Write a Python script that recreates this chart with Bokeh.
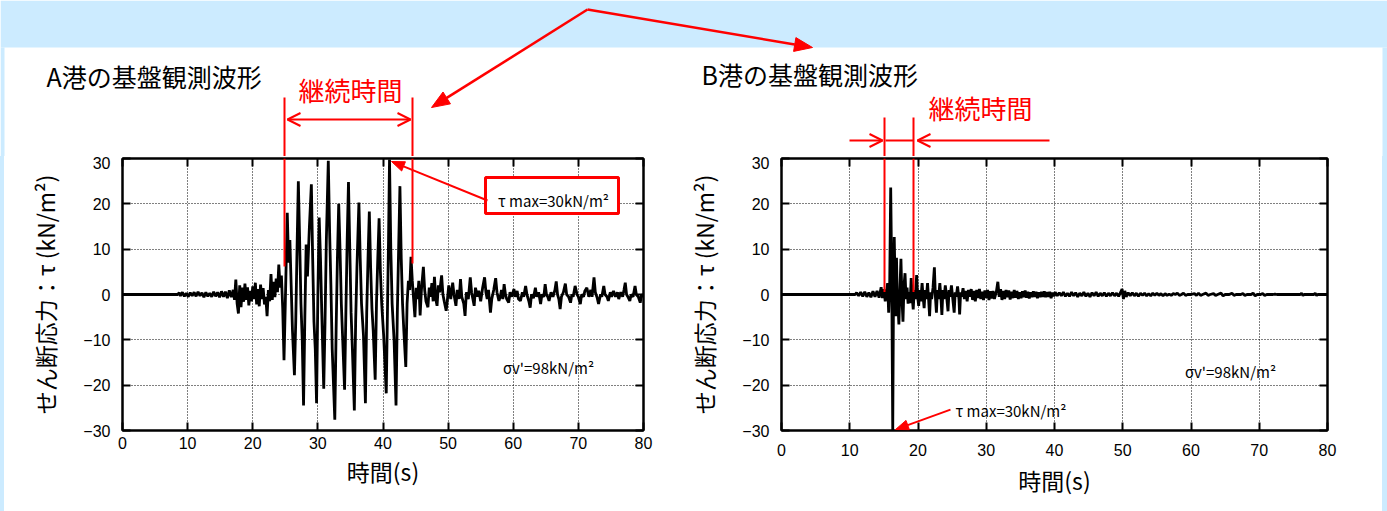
import math
from bokeh.plotting import figure
from bokeh.layouts import row, column
from bokeh.models import Range1d, FixedTicker, LinearAxis, PolyAnnotation, Label, Div
from bokeh.embed import file_html
from bokeh.resources import INLINE

# ---------------- data ----------------
x_ticks = [0, 10, 20, 30, 40, 50, 60, 70, 80]
y_ticks = [-30, -20, -10, 0, 10, 20, 30]

title_a = "A港の基盤観測波形"
title_b = "B港の基盤観測波形"
duration_text = "継続時間"
x_label = "時間(s)"
y_label = "せん断応力：τ (kN/m²)"
tau_max_text = "τ max=30kN/m²"
sigma_text = "σv'=98kN/m²"

time_a = [0, 8.5, 8.7, 8.9, 9.2, 9.5, 9.8, 10.1, 10.4, 10.7, 11.0, 11.3, 11.6, 11.9, 12.2, 12.5, 12.8, 13.1,
          13.4, 13.7, 14.0, 14.3, 14.6, 14.9, 15.2, 15.5, 15.8, 16.1, 16.4, 16.7, 17.0, 17.2, 17.4, 17.6,
          17.8, 18.0, 18.2, 18.4, 18.6, 18.8, 19.0, 19.2, 19.4, 19.6, 19.8, 20.0, 20.2, 20.4, 20.6, 20.8,
          21.0, 21.2, 21.4, 21.6, 21.8, 22.0, 22.2, 22.4, 22.6, 22.8, 23.0, 23.2, 23.4, 23.6, 23.8, 24.0,
          24.2, 24.4, 24.6, 24.8, 25.0, 25.3, 25.5, 25.7, 25.9, 26.1, 26.4, 26.6, 26.8, 27.0, 27.2, 27.4,
          27.6, 27.8, 28.0, 28.2, 28.4, 28.7, 29.0, 29.2, 29.4, 29.6, 29.8, 30.0, 30.2, 30.4, 30.6, 30.9,
          31.1, 31.3, 31.6, 31.8, 32.0, 32.2, 32.6, 32.8, 33.0, 33.2, 33.4, 33.6, 33.8, 34.1, 34.3, 34.5,
          34.7, 34.9, 35.1, 35.3, 35.6, 35.8, 36.0, 36.3, 36.5, 36.7, 37.0, 37.3, 37.5, 37.7, 37.9, 38.1,
          38.3, 38.5, 38.8, 39.0, 39.2, 39.4, 39.6, 39.8, 40.1, 40.5, 40.7, 40.85, 41.0, 41.2, 41.4, 41.7,
          42.0, 42.2, 42.4, 42.6, 42.8, 43.0, 43.2, 43.5, 43.7, 43.9, 44.1, 44.3, 44.5, 44.7, 44.9, 45.1,
          45.3, 45.5, 45.7, 45.9, 46.2, 46.4, 46.6, 46.9, 47.1, 47.3, 47.5, 47.7, 47.9, 48.1, 48.3, 48.5,
          48.7, 49.0, 49.2, 49.4, 49.7, 49.9, 50.1, 50.4, 50.7, 50.9, 51.2, 51.4, 51.7, 51.9, 52.1, 52.4,
          52.6, 52.8, 53.1, 53.4, 53.6, 53.8, 54.0, 54.2, 54.5, 54.7, 55.0, 55.3, 55.6, 55.8, 56.0, 56.2,
          56.5, 56.7, 57.0, 57.3, 57.5, 57.8, 58.0, 58.2, 58.4, 58.6, 58.8, 59.0, 59.3, 59.5, 59.8, 60.1,
          60.3, 60.6, 60.8, 61.1, 61.4, 61.6, 61.9, 62.1, 62.4, 62.6, 62.8, 63.1, 63.4, 63.6, 63.9, 64.2,
          64.4, 64.7, 64.9, 65.1, 65.3, 65.5, 65.8, 66.1, 66.4, 66.6, 66.8, 67.0, 67.2, 67.4, 67.7, 68.0,
          68.2, 68.5, 68.8, 69.0, 69.2, 69.5, 69.8, 70.0, 70.3, 70.5, 70.8, 71.0, 71.3, 71.6, 71.9, 72.1,
          72.4, 72.6, 72.9, 73.1, 73.4, 73.6, 73.9, 74.1, 74.4, 74.6, 74.9, 75.1, 75.4, 75.7, 76.0, 76.2,
          76.5, 76.8, 77.0, 77.2, 77.4, 77.6, 77.9, 78.1, 78.4, 78.7, 78.9, 79.2, 79.5, 79.7, 80.0]
tau_a = [0, 0, 0.4, -0.3, 0.5, -0.4, 0.3, -0.5, 0.4, -0.3, 0.5, -0.4, 0.6, -0.3, 0.4, -0.6, 0.5, -0.4,
         0.3, -0.5, 0.6, -0.4, 0.5, -0.6, 0.7, -0.5, 0.6, -0.8, 0.9, -0.6, 1.0, -1.2, 3.3, -2.0,
         -4.2, 2.0, -2.8, 1.5, -1.6, 2.4, -1.2, 1.6, -2.4, 0.8, -1.5, 1.8, -1.0, 2.6, -2.2, 1.2,
         -2.6, 2.2, -1.0, 1.4, -2.2, -0.5, -4.8, 1.0, -1.5, 4.5, -1.2, 2.8, -0.6, 3.5, 0.5, 6.6,
         1.5, 4.2, -3.0, -14.5, -2.0, 18.0, 7.0, 12.0, 2.0, -8.0, -17.8, -6.0, 10.0, 25.0, 12.0, -2.0,
         -10.0, -24.5, -5.0, 11.0, 4.0, 15.0, 24.3, 8.0, -6.0, -12.0, -24.0, 0.0, 17.0, 8.0, -4.0, -20.8,
         -6.0, 12.0, 29.5, 14.0, 2.0, -12.0, -27.6, -8.0, 8.0, 20.0, 10.0, -2.0, -9.5, -21.0, -4.0, 12.0,
         24.8, 10.0, -4.0, -12.0, -25.6, -6.0, 6.0, 20.3, 8.0, -2.0, -9.0, -24.0, -4.0, 8.0, 18.3, 6.0,
         -3.0, -8.0, -18.8, -2.0, 8.0, 16.8, 5.0, -2.0, -9.0, -21.8, -2.0, 12.0, 29.8, 10.0, -2.0, -10.0,
         -24.5, -4.0, 10.0, 23.9, 8.0, -2.0, -8.0, -16.0, -2.0, 3.0, 1.0, 8.3, 3.0, -1.0, -5.0, 1.5,
         -1.0, 3.0, -4.6, 1.0, 6.1, 1.0, -1.5, -2.8, 1.5, -0.5, 2.5, -1.5, 3.9, -1.0, -2.5, 2.0,
         0.5, 4.2, 0.0, -1.5, -3.6, -1.0, 2.0, -1.0, 2.6, 0.0, -2.5, 1.0, -1.0, 3.4, -0.5, -2.0,
         -4.7, 0.5, -1.0, 3.8, 0.5, -1.0, -2.5, 1.5, -0.5, 0.8, -1.5, 1.5, 3.8, 0.5, -1.0, 1.0,
         -4.0, -1.0, 1.0, 3.6, 0.5, -1.4, -0.5, 1.0, -1.0, 2.3, 0.0, -1.0, -1.8, 0.5, -0.5, 1.2,
         -0.5, 0.8, -1.0, -1.4, 0.5, -0.5, 1.9, 0.0, -1.5, -2.9, 0.0, -0.8, 1.5, -0.5, 0.5, -2.1,
         0.0, -0.5, 2.3, 0.0, -0.5, -1.4, 0.5, -0.5, 1.0, 2.9, 0.0, -1.0, -3.2, -0.5, 0.5, 2.4,
         0.0, -0.5, -1.8, 0.0, -0.5, 1.9, 0.0, -0.5, -2.1, 0.0, -0.5, 0.8, 1.5, -0.5, 1.0, -0.5,
         3.8, 0.5, -0.8, -2.1, 0.0, -0.5, 1.9, 0.0, -0.5, -1.4, 0.5, -0.5, 0.8, -0.5, 0.5, -1.0,
         0.5, -0.5, 1.0, 2.6, 0.0, -0.5, -1.4, 0.0, -0.5, 1.9, 0.0, -0.5, -1.8, 0.0, -0.5]

time_b = [0, 10.8, 11.0, 11.3, 11.6, 11.9, 12.2, 12.5, 12.8, 13.1, 13.4, 13.7, 14.0, 14.3, 14.6, 14.8,
          15.0, 15.2, 15.4, 15.55, 15.7, 15.85, 16.0, 16.15, 16.3, 16.42, 16.52, 16.62, 16.72, 16.85,
          16.95, 17.05, 17.2, 17.35, 17.5, 17.65, 17.8, 17.95, 18.1, 18.25, 18.4, 18.55, 18.7, 18.85,
          19.0, 19.15, 19.3, 19.45, 19.6, 19.8, 19.95, 20.1, 20.25, 20.4, 20.6, 20.75, 20.9, 21.05,
          21.2, 21.4, 21.55, 21.7, 21.85, 22.0, 22.2, 22.4, 22.55, 22.7, 22.85, 23.0, 23.2, 23.35,
          23.5, 23.65, 23.8, 24.0, 24.2, 24.4, 24.55, 24.7, 24.9, 25.1, 25.3, 25.45, 25.6, 25.8,
          26.0, 26.1, 26.25, 26.4, 26.6, 26.8, 27.0, 27.2, 27.4, 27.6, 27.8, 28.0, 28.2, 28.4,
          28.6, 28.8, 29.0, 29.2, 29.4, 29.6, 29.8, 30.0, 30.2, 30.4, 30.6, 30.8, 31.0, 31.2,
          31.5, 31.7, 31.9, 32.1, 32.3, 32.5, 32.7, 32.9, 33.1, 33.3, 33.5, 33.7, 33.9, 34.1,
          34.3, 34.5, 34.7, 34.9, 35.1, 35.3, 35.5, 35.7, 35.9, 36.1, 36.3, 36.5, 36.7, 36.9,
          37.1, 37.3, 37.5, 37.7, 37.9, 38.1, 38.3, 38.5, 38.7, 38.9, 39.1, 39.3, 39.5, 39.7,
          39.9, 40.1, 40.4, 40.7, 41.0, 41.3, 41.6, 41.9, 42.2, 42.5, 42.8, 43.1, 43.4, 43.7,
          44.0, 44.3, 44.6, 44.9, 45.2, 45.5, 45.8, 46.1, 46.4, 46.7, 47.0, 47.3, 47.6, 47.9,
          48.2, 48.5, 48.8, 49.1, 49.4, 49.7, 49.9, 50.1, 50.3, 50.5, 50.8, 51.1, 51.4, 51.7,
          52.0, 52.3, 52.6, 52.9, 53.2, 53.5, 53.8, 54.1, 54.4, 54.7, 55.0, 55.3, 55.6, 55.9,
          56.2, 56.5, 56.8, 57.1, 57.4, 57.7, 58.0, 58.3, 58.6, 58.9, 59.2, 59.5, 60.0, 60.5,
          60.8, 61.1, 61.4, 61.7, 62.2, 62.5, 62.8, 63.3, 63.6, 63.9, 64.4, 64.7, 65.0, 65.6,
          66.0, 66.3, 66.6, 67.3, 67.6, 67.9, 68.2, 68.8, 69.1, 69.4, 69.7, 70.2, 70.5, 70.8,
          71.1, 72.0, 72.3, 72.6, 76.0, 76.2, 76.4, 76.6, 78.0, 78.2, 78.4, 78.6, 80.0]
tau_b = [0, 0, 0.4, -0.3, 0.5, -0.4, 0.6, -0.5, 0.4, -0.6, 0.7, -0.5, 0.8, -0.7, 1.6, -0.8,
         1.2, -1.5, 0.6, 2.5, -4.0, 2.0, 23.6, 4.0, -30.0, 3.0, 12.7, 4.0, -4.8, 8.1,
         0.0, -2.0, -6.6, 1.0, 7.9, -1.0, -6.0, 2.0, 4.7, -1.0, 1.5, -2.0, 0.5, -1.9,
         3.6, -0.5, -3.3, 1.0, -1.0, 4.3, -0.5, -2.5, 1.0, -1.5, 2.5, -0.5, -3.0, 1.0,
         -1.0, 2.5, -1.0, -4.8, 0.5, -1.0, 1.5, 6.0, -0.5, -4.0, 1.0, -1.0, 2.5, -0.5,
         -4.5, 1.0, -1.0, 2.0, -0.5, -3.7, 1.0, -0.5, 2.0, -1.0, -4.0, 0.5, -0.5, 1.8,
         -1.0, -4.4, 0.5, -0.5, 1.4, -1.0, 0.8, -1.5, 1.0, -0.5, 1.2, -1.2, 0.8, -1.5,
         1.0, -0.8, 1.2, -1.0, 0.6, -1.2, 0.9, -0.8, 1.0, -1.2, 0.7, -0.9, 0.8, -1.0,
         0.8, 2.8, -0.5, 1.2, -1.2, 0.8, -1.0, 1.0, -0.6, 0.9, -1.1, 0.6, -0.8, 1.0,
         -0.7, 0.8, -1.0, 0.5, -0.8, 0.7, -0.6, 0.9, -0.7, 0.6, -0.9, 0.5, -0.6, 0.7,
         -0.5, 0.6, -0.8, 0.5, -0.6, 0.6, -0.5, 0.7, -0.6, 0.5, -0.5, 0.6, -0.8, 0.4,
         -0.4, 0.5, -0.3, 0.4, -0.3, 0.5, -0.4, 0.3, -0.4, 0.5, -0.3, 0.4, -0.5, 0.3,
         -0.3, 0.5, -0.4, 0.3, -0.5, 0.4, -0.3, 0.5, -0.4, 0.3, -0.3, 0.4, -0.4, 0.3,
         -0.3, 0.4, -0.3, 0.3, -0.4, 0.5, 1.2, -1.0, 0.8, -0.5, 0.4, -0.3, 0.4, -0.3,
         0.3, -0.4, 0.3, -0.2, 0.3, -0.3, 0.2, -0.3, 0.3, -0.2, 0.3, -0.2, 0.2, -0.3,
         0.2, -0.2, 0.1, -0.2, 0.2, 0.0, 0.3, -0.2, 0.0, 0.3, -0.2, 0.0, 0.0, 0.2,
         -0.2, 0.3, -0.2, 0.0, 0.3, -0.2, 0.0, 0.2, -0.2, 0.0, 0.3, -0.3, 0.0, 0.0,
         0.3, -0.2, 0.0, 0.0, 0.2, -0.2, 0.0, 0.0, 0.3, -0.3, 0.0, 0.0, 0.2, -0.2,
         0.0, 0.0, 0.1, 0.0, 0.0, 0.3, -0.2, 0.0, 0.0, 0.3, -0.2, 0.0, 0.0]

# ---------------- layout (page pixels, page origin at top-left) ----------------
W_TOT, H_TOT = 1387, 511
H_TOP = 156                 # decoration strip above the two charts
H_BOT = H_TOT - H_TOP
W1 = 672                    # slot of the left chart (incl. 4px blue edge)
W2 = W_TOT - W1             # slot of the right chart (incl. 5px blue edge)
RED = "#FF0000"
BAND = "#CCEBFF"
JP = "Noto Sans CJK JP"
NUM = "Liberation Sans"


class Panel:
    def __init__(self, fig_x, width, fl, fr, ft, fb):
        self.fig_x, self.width = fig_x, width
        self.fl, self.fr, self.ft, self.fb = fl, fr, ft, fb

    def d(self, px, py):
        t = (px - self.fl) / (self.fr - self.fl) * 80.0
        v = 30.0 - (py - self.ft) / (self.fb - self.ft) * 60.0
        return t, v


def make_fig(pn, xtick_standoff, xl_standoff):
    p = figure(width=pn.width, height=H_BOT,
               x_range=Range1d(0, 80), y_range=Range1d(-30, 30),
               min_border_left=pn.fl - pn.fig_x,
               min_border_right=pn.fig_x + pn.width - pn.fr,
               min_border_top=pn.ft - H_TOP,
               min_border_bottom=H_TOT - pn.fb,
               output_backend="svg", toolbar_location=None)
    p.add_layout(LinearAxis(), "above")
    p.add_layout(LinearAxis(), "right")
    p.xaxis.ticker = FixedTicker(ticks=x_ticks)
    p.yaxis.ticker = FixedTicker(ticks=y_ticks)
    for ax in p.axis:
        ax.major_tick_in = 8
        ax.major_tick_out = 0
        ax.major_tick_line_width = 2
        ax.major_tick_line_color = "black"
        ax.minor_tick_line_color = None
        ax.axis_line_width = 2
        ax.axis_line_color = "black"
        ax.major_label_text_font = NUM
        ax.major_label_text_font_size = "16px"
        ax.major_label_text_color = "black"
    for ax in p.above + p.right:
        ax.major_label_text_font_size = "0px"
        ax.major_label_text_color = None
        ax.major_label_standoff = 0
    xa = p.below[0]
    ya = p.left[0]
    xa.axis_label = x_label
    ya.axis_label = y_label
    for ax in (xa, ya):
        ax.axis_label_text_font = JP
        ax.axis_label_text_font_style = "normal"
        ax.axis_label_text_font_size = "23px"
        ax.axis_label_text_color = "black"
    xa.major_label_standoff = xtick_standoff
    xa.axis_label_standoff = xl_standoff
    ya.axis_label_standoff = 18
    ya.major_label_standoff = 12
    p.grid.grid_line_color = "black"
    p.grid.grid_line_dash = "1 2"
    p.grid.grid_line_width = 1
    p.outline_line_color = "black"
    p.outline_line_width = 2
    p.outline_line_alpha = 1
    p.background_fill_color = "white"
    p.border_fill_color = "white"
    return p


PA = Panel(4, W1 - 4, 122, 643, 158, 430)
PB = Panel(W1, W2 - 5, 781, 1327, 157, 430)

pA = make_fig(PA, 6, 2)
pB = make_fig(PB, 13, 4)

pA.line(time_a, tau_a, line_color="black", line_width=2.8)
pB.line(time_b, tau_b, line_color="black", line_width=2.8)

# ---------------- decoration strip (page pixel space) ----------------
top = figure(width=W_TOT, height=H_TOP, x_range=Range1d(0, W_TOT), y_range=Range1d(H_TOP, 0),
             x_axis_type=None, y_axis_type=None, min_border=0,
             output_backend="svg", toolbar_location=None)
top.outline_line_color = None
top.background_fill_color = "white"
top.border_fill_color = "white"
top.grid.visible = False
top.quad(left=[0, 0, 1382], right=[W_TOT, 4, W_TOT], top=[0, 47, 47], bottom=[47, H_TOP, H_TOP],
         fill_color=BAND, line_color=None)


def head_pts(tail, tip, L, hw):
    dx, dy = tip[0] - tail[0], tip[1] - tail[1]
    n = math.hypot(dx, dy)
    ux, uy = dx / n, dy / n
    bx, by = tip[0] - L * ux, tip[1] - L * uy
    return (bx - hw * uy, by + hw * ux), (bx + hw * uy, by - hw * ux)


def t_seg(a, b, w=2):
    top.line([a[0], b[0]], [a[1], b[1]], line_color=RED, line_width=w)


def t_filled_arrow(tail, tip, L=18, hw=7, w=2.5):
    w1, w2 = head_pts(tail, tip, L, hw)
    base = ((w1[0] + w2[0]) / 2, (w1[1] + w2[1]) / 2)
    t_seg(tail, base, w)
    top.patch([tip[0], w1[0], w2[0]], [tip[1], w1[1], w2[1]], fill_color=RED, line_color=RED, line_width=1)


def t_open_head(tail, tip, L=13, hw=6.5, w=2):
    w1, w2 = head_pts(tail, tip, L, hw)
    top.line([w1[0], tip[0], w2[0]], [w1[1], tip[1], w2[1]], line_color=RED, line_width=w)


def t_label(px, py, text, size, color="black", align="left"):
    top.add_layout(Label(x=px, y=py, text=text, text_font=JP, text_font_size=size,
                         text_color=color, text_align=align, text_baseline="middle"))


t_filled_arrow((587, 9), (431, 107))
t_filled_arrow((587, 9), (812, 47))
# left duration marks
t_seg((284, 97), (284, H_TOP))
t_seg((412, 97), (412, H_TOP))
t_seg((287, 119), (410, 119))
t_open_head((410, 119), (287, 119))
t_open_head((287, 119), (410, 119))
# right duration marks
t_seg((884, 117), (884, H_TOP))
t_seg((913, 117), (913, H_TOP))
t_seg((849, 140), (882, 140))
t_open_head((849, 140), (882, 140))
t_seg((885, 140), (913, 140))
t_seg((1049, 140), (917, 140))
t_open_head((1049, 140), (917, 140))

t_label(46, 75, title_a, "25px")
t_label(701, 73, title_b, "25px")
t_label(350, 89, duration_text, "26px", RED, "center")
t_label(980, 107, duration_text, "26px", RED, "center")


def poly(p, pn, pts, line_color=None, line_width=1, fill_color=None):
    xs, ys = [], []
    for (px, py) in pts:
        t, v = pn.d(px, py)
        xs.append(t)
        ys.append(v)
    p.add_layout(PolyAnnotation(xs=xs, ys=ys, line_color=line_color, line_width=line_width,
                                line_alpha=1, fill_color=fill_color, fill_alpha=1))


def f_filled_arrow(p, pn, tail, tip, L=13, hw=5, w=2):
    w1, w2 = head_pts(tail, tip, L, hw)
    base = ((w1[0] + w2[0]) / 2, (w1[1] + w2[1]) / 2)
    poly(p, pn, [tail, base], line_color=RED, line_width=w)
    poly(p, pn, [tip, w1, w2], line_color=RED, line_width=1, fill_color=RED)


def f_label(p, pn, px, py, text, size, align="left"):
    t, v = pn.d(px, py)
    p.add_layout(Label(x=t, y=v, text=text, text_font=JP, text_font_size=size,
                       text_color="black", text_align=align, text_baseline="middle"))


poly(pA, PA, [(284, 158), (284, 266)], line_color=RED, line_width=2)
poly(pA, PA, [(412, 158), (412, 263)], line_color=RED, line_width=2)
poly(pA, PA, [(485, 177), (618, 177), (618, 213), (485, 213)], line_color=RED, line_width=3, fill_color="white")
f_filled_arrow(pA, PA, (487, 200), (391, 161))
f_label(pA, PA, 553, 200, tau_max_text, "15px", "center")
f_label(pA, PA, 548, 367, sigma_text, "15px", "center")

poly(pB, PB, [(884, 157), (884, 291)], line_color=RED, line_width=2)
poly(pB, PB, [(913, 157), (913, 291)], line_color=RED, line_width=2)
f_filled_arrow(pB, PB, (950, 409), (895, 429))
f_label(pB, PB, 955, 410, tau_max_text, "15px", "left")
f_label(pB, PB, 1230, 371, sigma_text, "15px", "center")

edge_l = Div(text="", width=4, height=H_BOT, margin=0, styles={"background-color": BAND})
edge_r = Div(text="", width=5, height=H_BOT, margin=0, styles={"background-color": BAND})

layout = column(top, row(edge_l, pA, pB, edge_r))
open("out.html", "w").write(file_html(layout, INLINE))
